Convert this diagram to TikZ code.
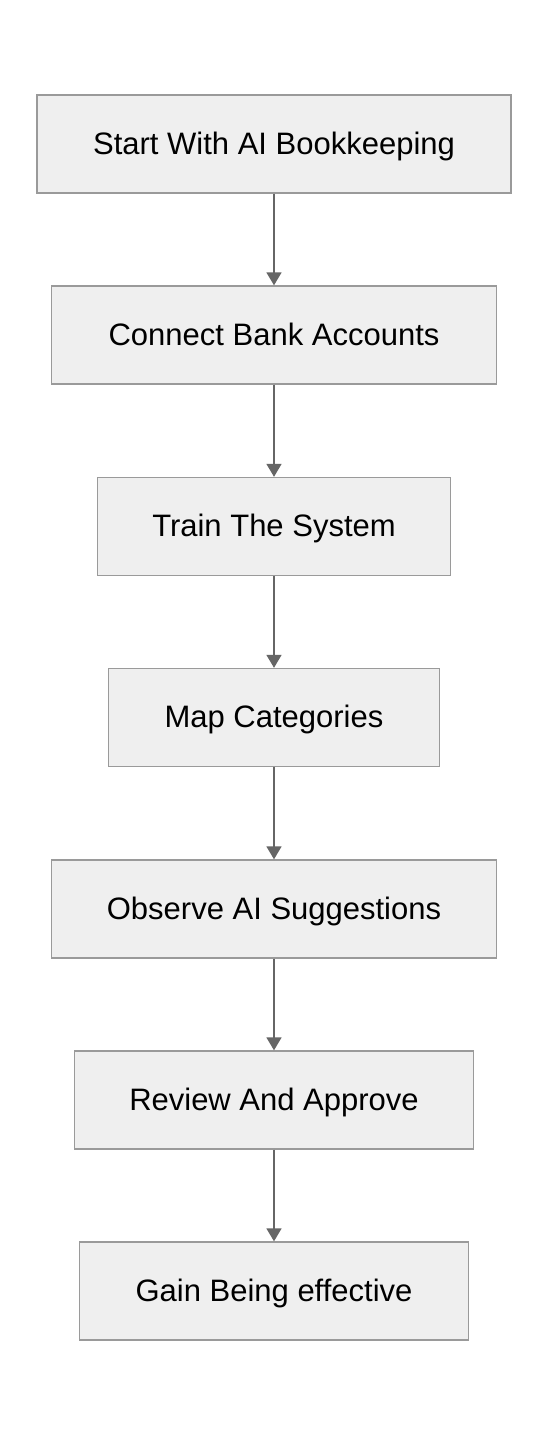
\documentclass[tikz,border=0pt]{standalone}
\usepackage{fontspec}
\setmainfont{Liberation Sans}
\usetikzlibrary{arrows.meta}
\definecolor{boxfill}{HTML}{EFEFEF}
\definecolor{boxline}{HTML}{9A9A9A}
\definecolor{arrowcol}{HTML}{666666}
\begin{document}
\begin{tikzpicture}[x=1pt,y=-1pt,
  stepbox/.style={draw=boxline, fill=boxfill, line width=1.4pt, inner sep=0pt,
    minimum height=98pt, text height=22pt, text depth=2pt,
    font=\fontsize{31}{36}\selectfont, text=black},
  flow/.style={draw=arrowcol, line width=1.8pt, -{Triangle[width=15pt,length=13pt]}}]
\useasboundingbox (0,0) rectangle (548,1436);
\fill[white] (0,0) rectangle (548,1436);
\node[stepbox, minimum width=474pt] (s1) at (274,144) {Start With AI Bookkeeping};
\node[stepbox, minimum width=445pt] (s2) at (274,335) {Connect Bank Accounts};
\node[stepbox, minimum width=353pt] (s3) at (274,526.5) {Train The System};
\node[stepbox, minimum width=331pt] (s4) at (274,717.5) {Map Categories};
\node[stepbox, minimum width=445pt] (s5) at (274,909) {Observe AI Suggestions};
\node[stepbox, minimum width=399pt] (s6) at (274,1100) {Review And Approve};
\node[stepbox, minimum width=389pt] (s7) at (274,1291) {Gain Being effective};
\draw[flow] (s1) -- (s2);
\draw[flow] (s2) -- (s3);
\draw[flow] (s3) -- (s4);
\draw[flow] (s4) -- (s5);
\draw[flow] (s5) -- (s6);
\draw[flow] (s6) -- (s7);
\end{tikzpicture}
\end{document}
